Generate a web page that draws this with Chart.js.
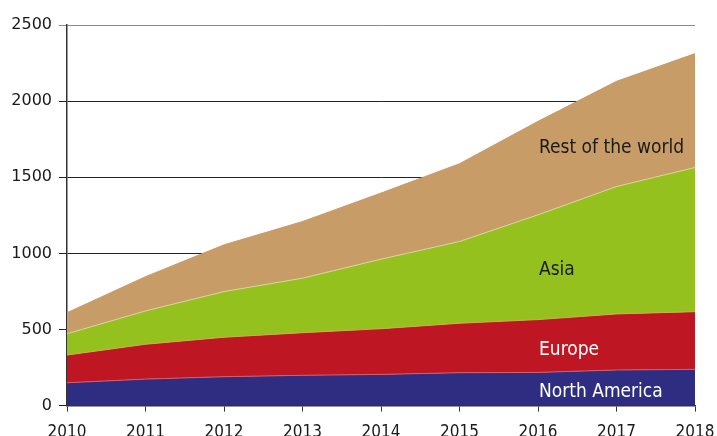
<!DOCTYPE html>
<html>
<head>
<meta charset="utf-8">
<script src="https://cdn.jsdelivr.net/npm/chart.js@4"></script>
<style>
  html, body { margin: 0; padding: 0; background: #fff; overflow: hidden; }
  #myChart { display: block; }
</style>
</head>
<body>
<canvas id="myChart" width="717" height="454"></canvas>
<script>
var years = ['2010', '2011', '2012', '2013', '2014', '2015', '2016', '2017', '2018'];
var northAmerica = [150, 174, 190, 199, 205, 216, 218, 234, 238];
var europe = [182, 229, 259, 280, 300, 325, 347, 368, 379];
var asia = [140, 219, 300, 358, 457, 537, 688, 837, 947];
var restOfWorld = [138, 225, 307, 372, 434, 511, 614, 691, 748];
var yTicks = [0, 500, 1000, 1500, 2000, 2500];

// series names drawn inside the areas, anchored at the 2016 column
var seriesLabels = [
  { text: 'Rest of the world', value: 1661, color: '#1a1a1a' },
  { text: 'Asia', value: 858, color: '#1a1a1a' },
  { text: 'Europe', value: 332, color: '#ffffff' },
  { text: 'North America', value: 56, color: '#ffffff' }
];

var areaLabels = {
  id: 'areaLabels',
  afterDatasetsDraw: function(chart) {
    var c = chart.ctx;
    var x = chart.scales.x.getPixelForValue(6) + 1;
    c.save();
    c.font = '19px "DejaVu Sans Condensed", "DejaVu Sans", sans-serif';
    c.textAlign = 'left';
    c.textBaseline = 'alphabetic';
    seriesLabels.forEach(function(l) {
      c.fillStyle = l.color;
      c.fillText(l.text, x, chart.scales.y.getPixelForValue(l.value));
    });
    c.restore();
  }
};

var ctx = document.getElementById('myChart').getContext('2d');
var myChart = new Chart(ctx, {
  type: 'line',
  data: {
    labels: years,
    datasets: [
      {
        label: 'North America',
        data: northAmerica,
        backgroundColor: '#2e2d82',
        borderColor: '#d4606c',
        borderWidth: 1,
        fill: 'origin'
      },
      {
        label: 'Europe',
        data: europe,
        backgroundColor: '#be1622',
        borderColor: '#c9b04a',
        borderWidth: 1,
        fill: '-1'
      },
      {
        label: 'Asia',
        data: asia,
        backgroundColor: '#95c11f',
        borderColor: '#d9d3a0',
        borderWidth: 1,
        fill: '-1'
      },
      {
        label: 'Rest of the world',
        data: restOfWorld,
        backgroundColor: '#c89c67',
        borderColor: '#c89c67',
        borderWidth: 1,
        fill: '-1'
      }
    ]
  },
  options: {
    responsive: false,
    animation: false,
    devicePixelRatio: 1,
    layout: { padding: { top: 25, right: 0, bottom: 0, left: 0 } },
    elements: { point: { radius: 0 }, line: { tension: 0 } },
    plugins: {
      legend: { display: false },
      tooltip: { enabled: false }
    },
    scales: {
      x: {
        offset: false,
        afterFit: function(scale) { scale.paddingRight = 22; scale.paddingLeft = 0; },
        grid: { drawOnChartArea: false, drawTicks: true, tickLength: 6, color: '#333' },
        border: { color: '#333', width: 1.5 },
        ticks: {
          color: '#1a1a1a',
          padding: 11,
          maxRotation: 0,
          autoSkip: false,
          font: { family: '"DejaVu Sans Condensed", "DejaVu Sans", sans-serif', size: 17 }
        }
      },
      y: {
        stacked: true,
        min: 0,
        max: 2500,
        afterBuildTicks: function(scale) {
          scale.ticks = yTicks.map(function(v) { return { value: v }; });
        },
        afterFit: function(scale) { scale.width = 67; },
        grid: {
          tickLength: 8,
          color: function(c) { return c.tick && c.tick.value === 2500 ? '#8a8a8a' : '#222'; },
          lineWidth: 1
        },
        border: { color: '#333', width: 1.5 },
        ticks: {
          color: '#1a1a1a',
          padding: 7,
          callback: function(v) { return String(v); },
          font: { family: '"DejaVu Sans", sans-serif', size: 16 }
        }
      }
    }
  },
  plugins: [areaLabels]
});
</script>
</body>
</html>
